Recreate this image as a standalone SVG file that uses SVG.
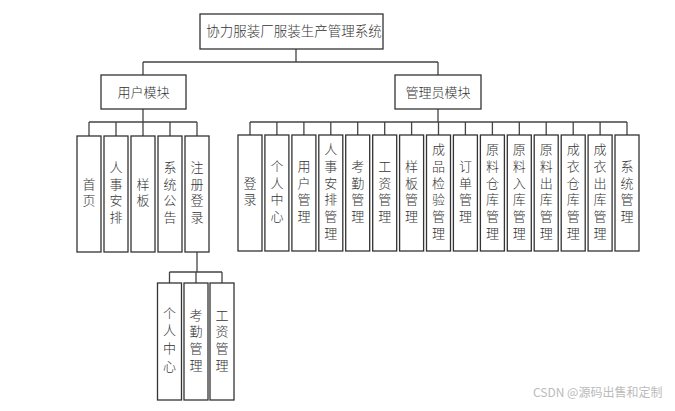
<svg xmlns="http://www.w3.org/2000/svg" width="675" height="411" viewBox="0 0 675 411">
<style>
.b{fill:#fff;stroke:#333;stroke-width:1.3}
.t{font-family:"Noto Sans CJK SC","Noto Sans",sans-serif;font-size:13px;fill:#333;text-anchor:middle;font-weight:300}
.v{writing-mode:vertical-rl;letter-spacing:3.7px;dominant-baseline:central}
.v2{letter-spacing:4.6px}
.c{fill:none;stroke:#444;stroke-width:1.3}
.w{font-family:"Noto Sans CJK SC","Liberation Sans",sans-serif;font-size:12px;fill:#bbb}
</style>
<rect width="675" height="411" fill="#fff"/>
<g id="connectors" class="c">
<path d="M296 49V62M143 62H438M143 62V75M438 62V75"/>
<path d="M143 109V122M89 122H197M89 122V136M116 122V136M143 122V136M170 122V136M197 122V136"/>
<path d="M438 109V122M250 122H627M250 122V135M276.9 122V135M303.9 122V135M330.8 122V135M357.7 122V135M384.7 122V135M411.6 122V135M438.5 122V135M465.4 122V135M492.4 122V135M519.3 122V135M546.2 122V135M573.2 122V135M600.1 122V135M627 122V135"/>
<path d="M197 252V272M169.5 272H222M169.5 272V283M196 272V283M222 272V283"/>
</g>
<g id="root"><rect class="b" x="200" y="14" width="183" height="35"/><text class="t" x="294" y="36" style="font-size:13.5px">协力服装厂服装生产管理系统</text></g>
<g id="user"><rect class="b" x="101" y="75" width="85" height="34"/><text class="t" x="143.5" y="96.5">用户模块</text></g>
<g id="admin"><rect class="b" x="395" y="75" width="86" height="34"/><text class="t" x="438" y="96.5">管理员模块</text></g>
<g id="u1"><rect class="b" x="77" y="136" width="24" height="116"/><text class="t v" x="89" y="194">首页</text></g>
<g id="u2"><rect class="b" x="104" y="136" width="24" height="116"/><text class="t v" x="116" y="194">人事安排</text></g>
<g id="u3"><rect class="b" x="131" y="136" width="24" height="116"/><text class="t v" x="143" y="194">样板</text></g>
<g id="u4"><rect class="b" x="158" y="136" width="24" height="116"/><text class="t v" x="170" y="194">系统公告</text></g>
<g id="u5"><rect class="b" x="185" y="136" width="24" height="116"/><text class="t v" x="197" y="194">注册登录</text></g>
<g id="s1"><rect class="b" x="157.5" y="283" width="24" height="117"/><text class="t v v2" x="169.5" y="341.5">个人中心</text></g>
<g id="s2"><rect class="b" x="184" y="283" width="24" height="117"/><text class="t v" x="196" y="341.5">考勤管理</text></g>
<g id="s3"><rect class="b" x="210" y="283" width="24" height="117"/><text class="t v" x="222" y="341.5">工资管理</text></g>
<g id="a1"><rect class="b" x="238" y="135" width="24" height="116"/><text class="t v" x="250" y="193">登录</text></g>
<g id="a2"><rect class="b" x="264.9" y="135" width="24" height="116"/><text class="t v" x="276.9" y="193">个人中心</text></g>
<g id="a3"><rect class="b" x="291.9" y="135" width="24" height="116"/><text class="t v" x="303.9" y="193">用户管理</text></g>
<g id="a4"><rect class="b" x="318.8" y="135" width="24" height="116"/><text class="t v" x="330.8" y="193">人事安排管理</text></g>
<g id="a5"><rect class="b" x="345.7" y="135" width="24" height="116"/><text class="t v" x="357.7" y="193">考勤管理</text></g>
<g id="a6"><rect class="b" x="372.7" y="135" width="24" height="116"/><text class="t v" x="384.7" y="193">工资管理</text></g>
<g id="a7"><rect class="b" x="399.6" y="135" width="24" height="116"/><text class="t v" x="411.6" y="193">样板管理</text></g>
<g id="a8"><rect class="b" x="426.5" y="135" width="24" height="116"/><text class="t v" x="438.5" y="193">成品检验管理</text></g>
<g id="a9"><rect class="b" x="453.4" y="135" width="24" height="116"/><text class="t v" x="465.4" y="193">订单管理</text></g>
<g id="a10"><rect class="b" x="480.4" y="135" width="24" height="116"/><text class="t v" x="492.4" y="193">原料仓库管理</text></g>
<g id="a11"><rect class="b" x="507.3" y="135" width="24" height="116"/><text class="t v" x="519.3" y="193">原料入库管理</text></g>
<g id="a12"><rect class="b" x="534.2" y="135" width="24" height="116"/><text class="t v" x="546.2" y="193">原料出库管理</text></g>
<g id="a13"><rect class="b" x="561.2" y="135" width="24" height="116"/><text class="t v" x="573.2" y="193">成衣仓库管理</text></g>
<g id="a14"><rect class="b" x="588.1" y="135" width="24" height="116"/><text class="t v" x="600.1" y="193">成衣出库管理</text></g>
<g id="a15"><rect class="b" x="615" y="135" width="24" height="116"/><text class="t v" x="627" y="193">系统管理</text></g>
<text class="w" x="533" y="397">CSDN @源码出售和定制</text>
</svg>
